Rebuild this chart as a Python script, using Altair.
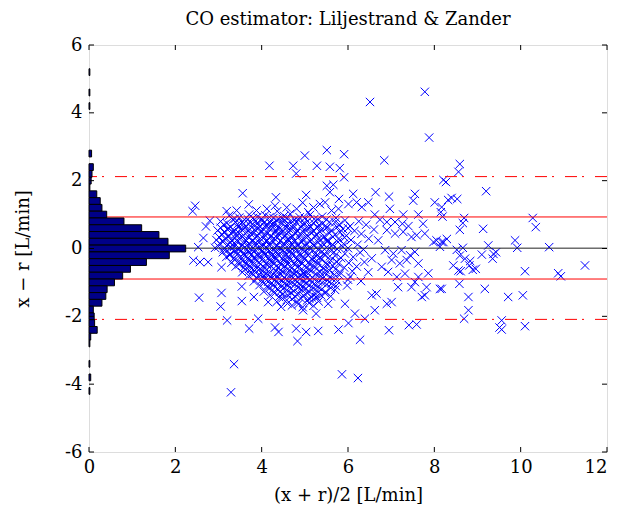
import altair as alt
import pandas as pd

TITLE = "CO estimator: Liljestrand & Zander"
X_TITLE = "(x + r)/2 [L/min]"
Y_TITLE = "x \u2212 r [L/min]"
X_TICKS = [0, 2, 4, 6, 8, 10, 12]
Y_TICKS = [-6, -4, -2, 0, 2, 4, 6]

# reference lines (mean, +-1 band, limits of agreement)
MEAN_LINE = [0.01]
BAND_LINES = [0.93, -0.90]
LIMIT_LINES = [2.12, -2.09]

# histogram of the differences (bin centres, bar lengths in x-axis units)
HIST_WIDTH = 0.2
hist_centers = [5.2, 4.6, 4.2, 2.8, 2.4, 2.2, 2.0, 1.8, 1.6, 1.4, 1.2, 1.0, 0.8,
                0.6, 0.4, 0.2, 0.0, -0.2, -0.4, -0.6, -0.8, -1.0, -1.2, -1.4,
                -1.6, -1.8, -2.0, -2.2, -2.4, -2.6, -2.8, -3.4, -3.8, -4.2]
hist_lengths = [0.02, 0.02, 0.02, 0.06, 0.10, 0.07, 0.05, 0.02, 0.18, 0.26, 0.30,
                0.41, 0.81, 1.22, 1.62, 1.83, 2.24, 1.86, 1.33, 0.96, 0.78, 0.59,
                0.42, 0.39, 0.30, 0.10, 0.12, 0.13, 0.19, 0.04, 0.02, 0.02, 0.04, 0.02]

# scatter points (mean, difference), read region by region
upper_pts = [(7.78, 4.62), (6.51, 4.32), (7.88, 3.27), (5.51, 2.90), (5.91, 2.78),
             (6.84, 2.60), (5.00, 2.74), (4.18, 2.44), (4.73, 2.44), (4.80, 2.21),
             (5.28, 2.44), (5.58, 2.41), (5.81, 2.37), (5.91, 2.10), (8.59, 2.49),
             (8.56, 2.26), (8.21, 2.02), (8.27, 1.96)]
mid_upper_pts = [(3.56, 1.63), (4.33, 1.51), (5.03, 1.58), (2.46, 1.26), (2.40, 1.10),
                 (3.19, 1.10), (3.42, 1.12), (5.51, 1.85), (5.66, 1.88), (5.58, 1.66),
                 (5.79, 1.46), (6.12, 1.61), (6.64, 1.66), (6.95, 1.53), (7.55, 1.61),
                 (7.51, 1.41), (8.01, 1.36), (5.35, 1.31), (5.47, 1.36), (6.01, 1.31),
                 (6.20, 1.36), (6.32, 1.22), (6.47, 1.36), (6.97, 1.17), (7.28, 1.00),
                 (7.63, 1.00), (8.15, 1.07), (6.62, 1.00), (5.62, 1.12), (5.78, 1.17),
                 (9.20, 1.69), (8.32, 1.43), (8.40, 1.49), (8.53, 1.46), (8.17, 1.22),
                 (4.12, 1.17), (4.31, 1.26), (4.36, 1.10), (3.88, 1.12), (4.58, 1.21),
                 (4.81, 1.17), (5.08, 1.07), (5.20, 1.21), (3.70, 1.30), (4.95, 1.35)]
right_pts = [(6.90, 0.78), (7.09, 0.78), (7.26, 0.73), (7.40, 0.66), (7.74, 0.73),
             (6.90, 0.54), (7.09, 0.44), (7.28, 0.49), (7.47, 0.34), (7.59, 0.39),
             (7.78, 0.44), (7.98, 0.19), (8.05, 0.24), (8.21, 0.19), (8.13, 0.05),
             (6.86, -0.05), (7.05, -0.15), (7.24, -0.05), (7.44, -0.20), (7.55, -0.10),
             (7.01, -0.34), (7.20, -0.44), (7.36, -0.34), (7.63, -0.44), (7.86, -0.73),
             (7.63, -0.84), (6.93, -0.69), (7.13, -0.84), (7.32, -0.74), (6.78, -0.54),
             (6.70, 0.24), (6.74, 0.85),
             (8.69, 0.90), (8.66, 0.75), (8.59, 0.55), (9.13, 0.58), (10.28, 0.90),
             (10.35, 0.63), (8.29, 0.28), (8.17, 0.19), (9.25, 0.09), (9.87, 0.24),
             (9.92, 0.02), (10.66, 0.04), (8.52, -0.04), (8.66, 0.02), (8.59, -0.21),
             (8.71, -0.30), (9.10, -0.18), (9.37, -0.16), (9.43, -0.11), (9.35, -0.30),
             (8.44, -0.50), (8.56, -0.65), (8.61, -0.67), (8.81, -0.50), (8.89, -0.63),
             (8.96, -0.60), (8.83, -0.37), (10.10, -0.67), (10.87, -0.73), (10.93, -0.82),
             (11.49, -0.50), (8.17, -1.19), (8.58, -1.04), (9.17, -1.19), (8.79, -1.43),
             (9.71, -1.43), (10.05, -1.38), (8.79, -1.82), (8.69, -2.07), (9.56, -2.12),
             (9.51, -2.33), (9.56, -2.39), (10.10, -2.29), (8.19, 0.94)]
lower_pts = [(2.55, -1.45), (3.07, -1.31), (3.05, -1.71), (3.54, -1.12), (3.54, -1.55),
             (3.82, -1.43), (4.15, -1.58), (3.20, -2.12), (3.92, -2.07), (3.71, -2.36),
             (4.31, -2.33), (4.39, -2.46), (4.80, -2.36), (5.03, -2.46), (4.83, -2.73),
             (4.96, -1.82), (5.26, -1.92), (5.26, -1.43), (5.31, -2.43), (5.78, -2.39),
             (6.01, -2.20), (6.28, -2.69), (6.95, -2.41), (7.41, -2.26), (7.59, -2.24),
             (6.39, -2.07), (5.54, -1.63), (5.93, -1.63), (6.16, -1.92), (6.62, -1.82),
             (6.90, -1.63), (7.01, -1.58), (6.55, -1.38), (6.66, -1.33), (7.16, -1.14),
             (7.47, -1.14), (7.55, -0.99), (7.82, -1.14), (7.71, -1.43), (7.78, -1.38),
             (8.13, -1.19), (3.36, -3.41), (3.29, -4.24), (5.86, -3.71), (6.23, -3.82)]
left_pts = [(2.80, 0.82), (2.71, 0.65), (2.65, 0.31), (2.53, 0.04), (2.42, -0.35),
            (2.57, -0.40), (2.76, -0.40), (3.07, -0.55)]
core_pts = [
    (3.25, 0.97), (3.48, 0.91), (3.71, 1.00), (3.90, 0.93), (4.08, 0.98), (4.27, 0.90),
    (4.52, 0.96), (4.66, 1.02), (4.88, 0.92), (5.12, 0.99), (5.40, 0.94), (5.72, 0.90),
    (3.05, 0.80), (3.33, 0.85), (3.55, 0.78), (3.68, 0.86), (3.86, 0.81), (4.02, 0.84),
    (4.19, 0.77), (4.35, 0.83), (4.49, 0.87), (4.71, 0.79), (4.85, 0.84), (5.06, 0.80),
    (5.30, 0.86), (5.57, 0.78), (5.93, 0.83), (6.25, 0.80),
    (3.12, 0.70), (3.28, 0.64), (3.44, 0.71), (3.63, 0.66), (3.79, 0.72), (3.95, 0.65),
    (4.10, 0.69), (4.28, 0.73), (4.40, 0.64), (4.58, 0.70), (4.74, 0.67), (4.95, 0.72),
    (5.13, 0.65), (5.33, 0.69), (5.51, 0.63), (5.80, 0.71), (6.05, 0.66), (6.42, 0.70),
    (2.98, 0.53), (3.20, 0.57), (3.37, 0.51), (3.52, 0.58), (3.70, 0.53), (3.84, 0.56),
    (4.01, 0.50), (4.17, 0.59), (4.33, 0.54), (4.50, 0.52), (4.63, 0.58), (4.82, 0.53),
    (5.00, 0.57), (5.21, 0.51), (5.38, 0.56), (5.62, 0.54), (5.88, 0.58), (6.15, 0.52),
    (6.60, 0.56),
    (3.08, 0.42), (3.25, 0.37), (3.40, 0.43), (3.58, 0.39), (3.74, 0.44), (3.90, 0.38),
    (4.06, 0.41), (4.22, 0.36), (4.38, 0.43), (4.55, 0.40), (4.70, 0.37), (4.89, 0.44),
    (5.05, 0.39), (5.27, 0.42), (5.45, 0.36), (5.70, 0.41), (5.96, 0.38), (6.31, 0.43),
    (2.95, 0.25), (3.15, 0.29), (3.31, 0.24), (3.47, 0.30), (3.63, 0.26), (3.80, 0.23),
    (3.97, 0.29), (4.12, 0.25), (4.29, 0.30), (4.44, 0.24), (4.61, 0.28), (4.78, 0.23),
    (4.96, 0.29), (5.15, 0.26), (5.33, 0.30), (5.52, 0.24), (5.78, 0.28), (6.07, 0.25),
    (6.48, 0.29),
    (3.03, 0.15), (3.22, 0.11), (3.36, 0.16), (3.55, 0.10), (3.70, 0.14), (3.86, 0.17),
    (4.03, 0.12), (4.19, 0.15), (4.35, 0.09), (4.52, 0.14), (4.68, 0.16), (4.85, 0.11),
    (5.03, 0.15), (5.22, 0.10), (5.41, 0.16), (5.64, 0.12), (5.90, 0.14), (6.22, 0.11),
    (2.92, 0.02), (3.12, -0.02), (3.29, 0.03), (3.45, -0.01), (3.61, 0.04), (3.77, -0.03),
    (3.93, 0.01), (4.10, 0.04), (4.26, -0.02), (4.42, 0.02), (4.58, -0.04), (4.75, 0.03),
    (4.92, -0.01), (5.10, 0.02), (5.30, -0.03), (5.50, 0.03), (5.75, -0.02), (6.00, 0.01),
    (6.36, -0.03),
    (3.10, -0.11), (3.27, -0.16), (3.42, -0.10), (3.58, -0.15), (3.73, -0.12), (3.90, -0.17),
    (4.06, -0.11), (4.22, -0.14), (4.39, -0.09), (4.55, -0.16), (4.71, -0.12), (4.88, -0.15),
    (5.06, -0.10), (5.25, -0.14), (5.44, -0.17), (5.67, -0.11), (5.93, -0.15), (6.28, -0.12),
    (3.18, -0.25), (3.35, -0.29), (3.52, -0.24), (3.67, -0.30), (3.83, -0.26), (3.99, -0.23),
    (4.15, -0.29), (4.31, -0.25), (4.47, -0.30), (4.63, -0.24), (4.80, -0.28), (4.97, -0.25),
    (5.16, -0.30), (5.35, -0.26), (5.58, -0.23), (5.84, -0.28), (6.12, -0.25), (6.55, -0.29),
    (3.30, -0.42), (3.47, -0.38), (3.62, -0.43), (3.78, -0.37), (3.94, -0.41), (4.10, -0.44),
    (4.26, -0.38), (4.43, -0.42), (4.59, -0.37), (4.75, -0.43), (4.91, -0.39), (5.09, -0.41),
    (5.28, -0.36), (5.49, -0.42), (5.73, -0.38), (6.02, -0.43), (6.38, -0.40),
    (3.40, -0.53), (3.58, -0.57), (3.73, -0.52), (3.89, -0.58), (4.05, -0.54), (4.21, -0.51),
    (4.37, -0.57), (4.53, -0.53), (4.69, -0.58), (4.86, -0.52), (5.03, -0.56), (5.21, -0.53),
    (5.42, -0.58), (5.65, -0.51), (5.91, -0.56), (6.20, -0.53),
    (3.55, -0.70), (3.72, -0.65), (3.86, -0.71), (4.02, -0.66), (4.18, -0.72), (4.33, -0.67),
    (4.49, -0.70), (4.65, -0.64), (4.81, -0.69), (4.98, -0.72), (5.15, -0.66), (5.35, -0.70),
    (5.57, -0.65), (5.82, -0.71), (6.10, -0.67), (6.47, -0.70),
    (3.70, -0.80), (3.88, -0.85), (4.04, -0.79), (4.20, -0.84), (4.36, -0.81), (4.52, -0.86),
    (4.68, -0.80), (4.84, -0.83), (5.00, -0.78), (5.17, -0.85), (5.36, -0.81), (5.58, -0.84),
    (5.80, -0.79), (6.05, -0.83),
    (3.82, -0.97), (4.00, -0.93), (4.15, -0.98), (4.31, -0.92), (4.47, -0.96), (4.63, -0.99),
    (4.79, -0.93), (4.96, -0.97), (5.13, -0.92), (5.31, -0.98), (5.52, -0.94), (5.76, -0.97),
    (6.00, -0.92), (6.30, -0.96),
    (3.95, -1.08), (4.12, -1.12), (4.28, -1.07), (4.45, -1.13), (4.61, -1.09), (4.77, -1.06),
    (4.94, -1.12), (5.11, -1.08), (5.30, -1.13), (5.50, -1.07), (5.72, -1.11), (5.98, -1.09),
    (4.05, -1.27), (4.25, -1.22), (4.42, -1.28), (4.58, -1.23), (4.75, -1.26), (4.92, -1.21),
    (5.10, -1.27), (5.28, -1.24), (5.48, -1.28), (5.70, -1.22),
    (4.20, -1.38), (4.40, -1.43), (4.60, -1.37), (4.78, -1.42), (4.97, -1.39), (5.16, -1.44),
    (5.38, -1.38), (5.60, -1.41),
    (4.35, -1.57), (4.58, -1.52), (4.83, -1.58), (5.05, -1.53), (5.32, -1.56),
    (4.45, -1.72), (4.70, -1.68), (4.95, -1.73), (5.20, -1.69),
]
core_fill_pts = [
    (3.38, 0.88), (3.60, 0.85), (3.80, 0.90), (3.99, 0.87), (4.18, 0.92), (4.40, 0.86),
    (4.59, 0.89), (4.77, 0.85), (5.00, 0.90), (5.22, 0.87), (5.50, 0.85),
    (3.19, 0.75), (3.40, 0.77), (3.58, 0.73), (3.74, 0.76), (3.91, 0.74), (4.07, 0.78),
    (4.24, 0.72), (4.45, 0.76), (4.62, 0.74), (4.80, 0.77), (5.00, 0.73), (5.20, 0.76),
    (5.42, 0.74), (5.70, 0.77),
    (3.05, 0.61), (3.24, 0.59), (3.45, 0.63), (3.61, 0.60), (3.77, 0.62), (3.92, 0.59),
    (4.09, 0.63), (4.25, 0.61), (4.41, 0.58), (4.57, 0.62), (4.73, 0.60), (4.91, 0.63),
    (5.10, 0.59), (5.29, 0.62), (5.50, 0.60), (5.75, 0.63), (6.00, 0.60),
    (3.14, 0.47), (3.32, 0.49), (3.48, 0.45), (3.65, 0.48), (3.81, 0.46), (3.97, 0.49),
    (4.14, 0.45), (4.30, 0.48), (4.46, 0.46), (4.62, 0.49), (4.79, 0.45), (4.97, 0.48),
    (5.15, 0.46), (5.35, 0.49), (5.57, 0.45), (5.82, 0.48),
    (3.02, 0.33), (3.22, 0.35), (3.39, 0.31), (3.55, 0.34), (3.71, 0.32), (3.87, 0.35),
    (4.04, 0.31), (4.20, 0.34), (4.36, 0.32), (4.52, 0.35), (4.69, 0.31), (4.86, 0.34),
    (5.04, 0.32), (5.24, 0.35), (5.43, 0.31), (5.65, 0.34), (5.92, 0.32),
    (3.10, 0.20), (3.28, 0.18), (3.44, 0.21), (3.61, 0.19), (3.78, 0.22), (3.94, 0.18),
    (4.11, 0.21), (4.27, 0.19), (4.43, 0.22), (4.60, 0.18), (4.76, 0.21), (4.93, 0.19),
    (5.12, 0.22), (5.31, 0.18), (5.52, 0.21), (5.77, 0.19),
    (3.00, 0.06), (3.19, 0.08), (3.36, 0.05), (3.53, 0.07), (3.69, 0.04), (3.85, 0.08),
    (4.02, 0.06), (4.18, 0.09), (4.34, 0.05), (4.50, 0.07), (4.66, 0.04), (4.83, 0.08),
    (5.01, 0.06), (5.20, 0.09), (5.40, 0.05), (5.62, 0.07), (5.88, 0.05),
    (3.20, -0.06), (3.37, -0.08), (3.53, -0.05), (3.69, -0.07), (3.85, -0.04), (4.01, -0.08),
    (4.18, -0.06), (4.34, -0.09), (4.50, -0.05), (4.66, -0.07), (4.83, -0.04), (5.00, -0.08),
    (5.19, -0.06), (5.40, -0.09), (5.62, -0.05),
    (3.26, -0.20), (3.43, -0.18), (3.60, -0.21), (3.75, -0.19), (3.91, -0.22), (4.07, -0.18),
    (4.23, -0.21), (4.39, -0.19), (4.55, -0.22), (4.72, -0.18), (4.89, -0.21), (5.07, -0.19),
    (5.26, -0.22), (5.47, -0.18), (5.70, -0.21),
    (3.38, -0.33), (3.55, -0.35), (3.71, -0.31), (3.86, -0.34), (4.02, -0.32), (4.18, -0.35),
    (4.34, -0.31), (4.51, -0.34), (4.67, -0.32), (4.83, -0.35), (5.00, -0.31), (5.18, -0.34),
    (5.38, -0.32), (5.60, -0.35),
    (3.48, -0.47), (3.65, -0.45), (3.81, -0.48), (3.97, -0.46), (4.13, -0.49), (4.29, -0.45),
    (4.45, -0.48), (4.61, -0.46), (4.77, -0.49), (4.94, -0.45), (5.12, -0.48), (5.31, -0.46),
    (5.53, -0.49), (5.78, -0.45),
    (3.62, -0.61), (3.80, -0.63), (3.96, -0.60), (4.12, -0.62), (4.28, -0.59), (4.44, -0.63),
    (4.60, -0.61), (4.76, -0.64), (4.93, -0.60), (5.10, -0.62), (5.28, -0.59), (5.48, -0.63),
    (5.71, -0.61),
    (3.78, -0.75), (3.95, -0.77), (4.11, -0.74), (4.27, -0.76), (4.43, -0.73), (4.59, -0.77),
    (4.75, -0.75), (4.91, -0.78), (5.08, -0.74), (5.26, -0.76), (5.46, -0.73), (5.69, -0.77),
    (3.90, -0.88), (4.08, -0.90), (4.24, -0.87), (4.40, -0.89), (4.56, -0.91), (4.72, -0.87),
    (4.88, -0.90), (5.05, -0.88), (5.22, -0.91), (5.42, -0.87), (5.64, -0.90),
    (4.05, -1.02), (4.22, -1.04), (4.38, -1.01), (4.54, -1.03), (4.70, -1.00), (4.86, -1.04),
    (5.03, -1.02), (5.21, -1.05), (5.40, -1.01), (5.62, -1.03),
    (4.18, -1.17), (4.36, -1.19), (4.52, -1.16), (4.68, -1.18), (4.85, -1.15), (5.02, -1.19),
    (5.20, -1.17), (5.39, -1.20), (5.60, -1.16),
    (4.30, -1.32), (4.50, -1.34), (4.68, -1.31), (4.86, -1.33), (5.05, -1.30), (5.25, -1.34),
    (5.47, -1.32),
    (4.48, -1.47), (4.70, -1.49), (4.90, -1.46), (5.10, -1.48), (5.28, -1.45),
    (4.60, -1.62), (4.85, -1.64), (5.10, -1.61),
]

FONT = "DejaVu Serif"
W, H = 518, 407

pts = (upper_pts + mid_upper_pts + right_pts + lower_pts + left_pts
       + core_pts + core_fill_pts)
scatter_df = pd.DataFrame(pts, columns=["m", "d"])
hist_df = pd.DataFrame({
    "base": [0.0] * len(hist_centers),
    "lo": [c - HIST_WIDTH / 2 for c in hist_centers],
    "hi": [c + HIST_WIDTH / 2 for c in hist_centers],
    "len": hist_lengths,
})

xscale = alt.Scale(domain=[0, 12], nice=False, zero=False)
yscale = alt.Scale(domain=[-6, 6], nice=False, zero=False)

xaxis = alt.Axis(values=X_TICKS, title=X_TITLE, ticks=False, tickSize=0, domain=False,
                 grid=False, labelFont=FONT, labelFontSize=18, labelColor="black",
                 labelPadding=6, labelExpr="'' + datum.value", labelFlush=False,
                 labelAlign={"condition": {"test": "datum.value == 12", "value": "right"},
                             "value": "center"},
                 titleFont=FONT, titleFontSize=18, titleFontWeight="normal",
                 titleColor="black", titlePadding=10)
yaxis = alt.Axis(values=Y_TICKS, title=Y_TITLE, ticks=False, tickSize=0, domain=False,
                 grid=False, labelFont=FONT, labelFontSize=18, labelColor="black",
                 labelPadding=7, labelExpr="'' + datum.value", labelFlush=False,
                 titleFont=FONT, titleFontSize=18, titleFontWeight="normal",
                 titleColor="black", titlePadding=32)

scatter = alt.Chart(scatter_df).mark_point(
    shape="M-1,-1L1,1M-1,1L1,-1", filled=False, color="#0000ff",
    strokeWidth=1, size=70, opacity=1,
).encode(
    x=alt.X("m:Q", scale=xscale, axis=xaxis),
    y=alt.Y("d:Q", scale=yscale, axis=yaxis),
)

mean_rule = alt.Chart(pd.DataFrame({"v": MEAN_LINE})).mark_rule(
    color="#222222", strokeWidth=1).encode(y=alt.Y("v:Q", scale=yscale))
band_rule = alt.Chart(pd.DataFrame({"v": BAND_LINES})).mark_rule(
    color="#ff0000", strokeWidth=1).encode(y=alt.Y("v:Q", scale=yscale))
limit_rule = alt.Chart(pd.DataFrame({"v": LIMIT_LINES})).mark_rule(
    color="#ff0000", strokeWidth=1, strokeDash=[12, 11, 2, 5]).encode(
    y=alt.Y("v:Q", scale=yscale))

hist = alt.Chart(hist_df).mark_rect(
    fill="#000088", stroke="black", strokeWidth=1, opacity=1,
).encode(
    x=alt.X("base:Q", scale=xscale),
    x2="len:Q",
    y=alt.Y("lo:Q", scale=yscale),
    y2="hi:Q",
)

xt = pd.DataFrame({"t": X_TICKS})
yt = pd.DataFrame({"t": Y_TICKS})
xt_bottom = alt.Chart(xt).mark_rule(color="black", strokeWidth=1).encode(
    x=alt.X("t:Q", scale=xscale), y=alt.value(H), y2=alt.value(H - 5))
xt_top = alt.Chart(xt).mark_rule(color="black", strokeWidth=1).encode(
    x=alt.X("t:Q", scale=xscale), y=alt.value(0), y2=alt.value(5))
yt_left = alt.Chart(yt).mark_rule(color="black", strokeWidth=1).encode(
    y=alt.Y("t:Q", scale=yscale), x=alt.value(0), x2=alt.value(5))
yt_right = alt.Chart(yt).mark_rule(color="black", strokeWidth=1).encode(
    y=alt.Y("t:Q", scale=yscale), x=alt.value(W), x2=alt.value(W - 5))

title_text = alt.Chart(pd.DataFrame({"t": [TITLE]})).mark_text(
    font=FONT, fontSize=18, color="black", align="center", baseline="alphabetic",
).encode(text="t:N", x=alt.value(W / 2), y=alt.value(-20))

chart = alt.layer(
    scatter, mean_rule, band_rule, limit_rule, hist,
    xt_bottom, xt_top, yt_left, yt_right, title_text,
).properties(
    width=W, height=H,
    autosize=alt.AutoSizeParams(type="none"),
    padding={"left": 81, "top": 37, "right": 4, "bottom": 54},
).configure_view(stroke="black", strokeWidth=1).configure(background="white")

chart.save("out.html", embed_options={"renderer": "svg", "actions": False})
